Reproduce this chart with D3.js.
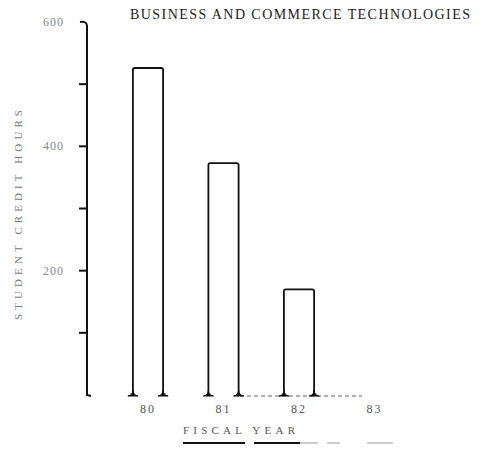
<!DOCTYPE html>
<html><head><meta charset="utf-8">
<script src="https://cdn.jsdelivr.net/npm/d3@7"></script>
<style>body{margin:0;background:#fff}svg{display:block}</style>
</head><body>
<svg id="c" width="483" height="449"></svg>
<script>
const categories = ["80","81","82","83"];
const values = [526, 373, 170, 0];
const yTicks = [0,100,200,300,400,500,600];
const yTickLabels = {200:"200",400:"400",600:"600"};
const title = "BUSINESS AND COMMERCE TECHNOLOGIES";
const yTitle = "STUDENT CREDIT HOURS";
const xTitle = "FISCAL YEAR";

const svg = d3.select("#c");
const x = d3.scaleBand().domain(categories).range([110.25, 412.25]).paddingInner(0.6).paddingOuter(0.3);
const y = d3.scaleLinear().domain([0,600]).range([395, 22]);
const serif = "'Liberation Serif','DejaVu Serif',serif";

// title
svg.append("text").attr("x", 130).attr("y", 19)
  .attr("font-family", serif).attr("font-size", 14)
  .attr("textLength", 340).attr("lengthAdjust","spacing")
  .attr("fill","#222").text(title);

// y axis
const ax = 87;
svg.append("path").attr("d", `M${ax-7},${y(600)}Q${ax},${y(600)-1} ${ax},${y(600)+4}L${ax},${y(0)}L${ax+4},${y(0)+1}`)
  .attr("fill","none").attr("stroke","#111").attr("stroke-width",2);
svg.selectAll(".yt").data(yTicks.filter(d=>d>0 && d<600)).join("line")
  .attr("x1", ax-8).attr("x2", ax).attr("y1", d=>y(d)).attr("y2", d=>y(d))
  .attr("stroke","#111").attr("stroke-width",2);
svg.selectAll(".yl").data(yTicks.filter(d=>yTickLabels[d])).join("text")
  .attr("x", 64).attr("y", d=>y(d)+4).attr("text-anchor","end")
  .attr("font-family", serif).attr("font-size", 12).attr("letter-spacing", 1)
  .attr("fill","#888").text(d=>yTickLabels[d]);

// y title
svg.append("text").attr("transform","translate(22,215) rotate(-90)").attr("text-anchor","middle")
  .attr("font-family", serif).attr("font-size", 11)
  .attr("textLength", 210).attr("lengthAdjust","spacing")
  .attr("fill","#777").text(yTitle);

// baseline dashed
svg.append("line").attr("x1", 240).attr("x2", 362).attr("y1", y(0)+1).attr("y2", y(0)+1)
  .attr("stroke","#666").attr("stroke-width",1).attr("stroke-dasharray","4,3");

// bars (open at bottom)
const bars = categories.map((c,i)=>({c, v: values[i]})).filter(d=>d.v>0);
svg.selectAll(".bar").data(bars).join("path")
  .attr("d", d=>{const x0=x(d.c), x1=x(d.c)+x.bandwidth(), yt=y(d.v), yb=y(0);
    return `M${x0},${yb}L${x0},${yt+2}Q${x0},${yt} ${x0+2},${yt}L${x1-2},${yt}Q${x1},${yt} ${x1},${yt+2}L${x1},${yb}`;})
  .attr("fill","none").attr("stroke","#111").attr("stroke-width",1.8);
// feet
bars.forEach(d=>{
  [x(d.c), x(d.c)+x.bandwidth()].forEach(xx=>{
    svg.append("path").attr("d", `M${xx-5},${y(0)+1}Q${xx},${y(0)} ${xx},${y(0)-5}Q${xx},${y(0)} ${xx+5},${y(0)+1}Z`)
      .attr("fill","#111").attr("stroke","#111").attr("stroke-width",1);
  });
});

// x labels
svg.selectAll(".xl").data(categories).join("text")
  .attr("x", d=>x(d)+x.bandwidth()/2).attr("y", 413).attr("text-anchor","middle")
  .attr("font-family", serif).attr("font-size", 12).attr("letter-spacing", 2)
  .attr("fill","#555").text(d=>d);

// x title
svg.append("text").attr("x", 183).attr("y", 434)
  .attr("font-family", serif).attr("font-size", 11)
  .attr("textLength", 112).attr("lengthAdjust","spacing")
  .attr("fill","#555").text(xTitle);
// underline segments
[[183,245],[254,300],[300,318],[327,340],[367,393]].forEach(([a,b],i)=>{
  svg.append("line").attr("x1",a).attr("x2",b).attr("y1",443).attr("y2",443)
    .attr("stroke", i<2?"#111":"#999").attr("stroke-width", i<2?1.8:1);
});
</script>
</body></html>
